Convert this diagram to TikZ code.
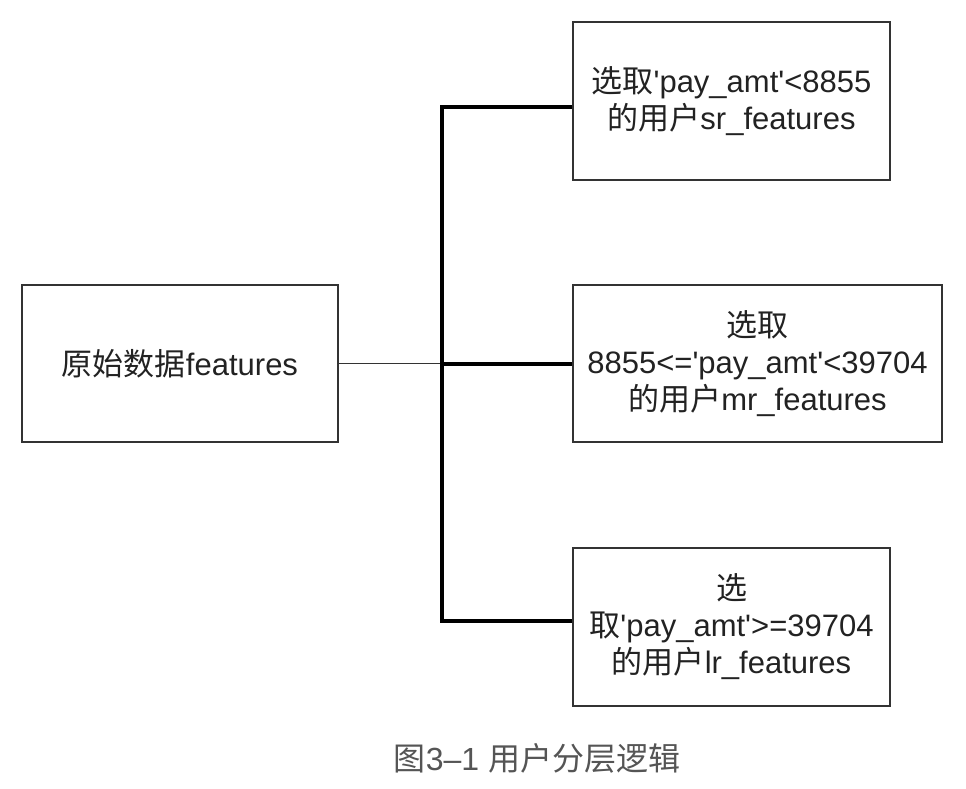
\documentclass[tikz,border=0pt]{standalone}
\usepackage{fontspec}
\setmainfont{Liberation Sans}
\newfontfamily\zhfont{Noto Sans CJK SC}
\newcommand{\zh}[1]{{\zhfont #1}}
\newcommand{\q}{\textquotesingle}
\definecolor{boxline}{HTML}{333333}
\definecolor{txt}{HTML}{222222}
\definecolor{cap}{HTML}{555555}
\begin{document}
\begin{tikzpicture}[x=1pt,y=-1pt,
  box/.style={draw=boxline,line width=2pt,rectangle,align=center,text=txt,
    font=\fontsize{31}{37}\selectfont,inner sep=0pt},
  bus/.style={line width=4pt,black},
  thin/.style={line width=1.6pt,draw=boxline}]
\useasboundingbox (0,0) rectangle (966,788);
\node[box,minimum width=316pt,minimum height=157pt] (src) at (180,363.5) {\zh{原始数据}features};
\node[box,minimum width=317pt,minimum height=158pt] (sr) at (731.5,101) {\zh{选取}\q pay\_amt\q<8855\\\zh{的用户}sr\_features};
\node[box,minimum width=369pt,minimum height=157pt] (mr) at (757.5,363.5) {\zh{选取}\\8855<=\q pay\_amt\q<39704\\\zh{的用户}mr\_features};
\node[box,minimum width=317pt,minimum height=158pt] (lr) at (731.5,627) {\zh{选}\\\zh{取}\q pay\_amt\q>=39704\\\zh{的用户}lr\_features};
\coordinate (j) at (442,363.5);
\coordinate (jt) at (442,107);
\coordinate (jb) at (442,621);
\draw[thin] (src.east) -- (j);
\draw[bus] (j) -- (mr.west);
\draw[bus,line join=miter] (sr.west |- jt) -- (jt) -- (jb) -- (lr.west |- jb);
\node[text=cap,font=\fontsize{32}{34}\selectfont] (caption) at (537,758) {\zh{图}3–1 \zh{用户分层逻辑}};
\end{tikzpicture}
\end{document}
